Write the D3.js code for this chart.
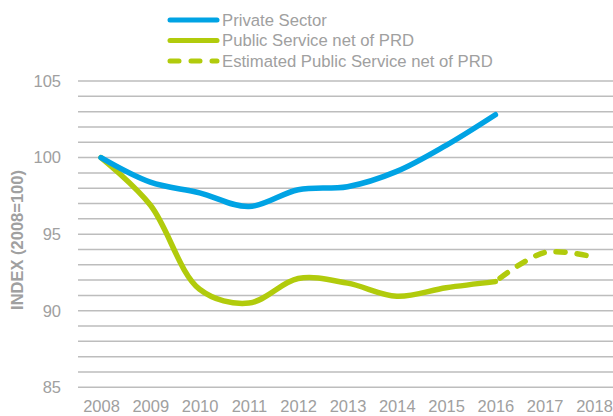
<!DOCTYPE html>
<html>
<head>
<meta charset="utf-8">
<script src="https://cdn.jsdelivr.net/npm/d3@7"></script>
<style>
  html, body { margin: 0; padding: 0; background: #fff; }
  svg { display: block; font-family: "Liberation Sans", Arial, sans-serif; }
</style>
</head>
<body>
<svg id="chart" width="613" height="416"></svg>
<script>
const years = ["2008","2009","2010","2011","2012","2013","2014","2015","2016","2017","2018"];
const privateYears = ["2008","2009","2010","2011","2012","2013","2014","2015","2016"];
const privateValues = [100, 98.4, 97.7, 96.8, 97.9, 98.1, 99.1, 100.8, 102.8];
const publicYears = ["2008","2009","2010","2011","2012","2013","2014","2015","2016"];
const publicValues = [100, 96.9, 91.4, 90.5, 92.1, 91.8, 90.95, 91.5, 91.9];
const estYears = ["2016","2017","2018"];
const estValues = [91.9, 93.8, 93.5];
const yTicks = [85, 90, 95, 100, 105];
const gridValues = d3.range(85, 106, 1);
const legendLabels = ["Private Sector", "Public Service net of PRD", "Estimated Public Service net of PRD"];
const yAxisTitle = "INDEX (2008=100)";

const blue = "#00a3e4";
const green = "#b1cb0c";
const textGrey = "#a0a0a0";

const svg = d3.select("#chart");

const x = d3.scalePoint().domain(years).range([101, 594]);
const y = d3.scaleLinear().domain([85, 105]).range([387.3, 81]);

// gridlines
svg.append("g").selectAll("line").data(gridValues).join("line")
  .attr("x1", 78).attr("x2", 613)
  .attr("y1", d => y(d)).attr("y2", d => y(d))
  .attr("stroke", "#bdbdbd").attr("stroke-width", 1.5);

// y axis labels
const yAxis = d3.axisLeft(y).tickValues(yTicks).tickSize(0).tickPadding(0);
const ya = svg.append("g").attr("transform", "translate(61,0)").call(yAxis);
ya.select(".domain").remove();
ya.selectAll("text").attr("fill", textGrey).style("font-size", "16.5px")
  .style("font-family", "'Liberation Sans', Arial, sans-serif");

// x axis labels
const xAxis = d3.axisBottom(x).tickSize(0).tickPadding(0);
const xa = svg.append("g").attr("transform", "translate(0,400)").call(xAxis);
xa.select(".domain").remove();
xa.selectAll("text").attr("fill", textGrey).style("font-size", "16.5px")
  .style("font-family", "'Liberation Sans', Arial, sans-serif");

// y title
svg.append("text")
  .attr("transform", "translate(23,240) rotate(-90)")
  .attr("text-anchor", "middle")
  .attr("fill", textGrey)
  .style("font-size", "16.5px").style("font-weight", "bold")
  .text(yAxisTitle);

const line = d3.line().x(d => x(d[0])).y(d => y(d[1])).curve(d3.curveCatmullRom.alpha(0.5));

svg.append("path").datum(d3.zip(publicYears, publicValues))
  .attr("d", line).attr("fill", "none").attr("stroke", green)
  .attr("stroke-width", 5.5).attr("stroke-linecap", "round").attr("stroke-linejoin", "round");

svg.append("path").datum(d3.zip(estYears, estValues))
  .attr("d", line).attr("fill", "none").attr("stroke", green)
  .attr("stroke-width", 5.5).attr("stroke-linecap", "round")
  .attr("stroke-dasharray", "9,12").attr("stroke-dashoffset", "-6");

svg.append("path").datum(d3.zip(privateYears, privateValues))
  .attr("d", line).attr("fill", "none").attr("stroke", blue)
  .attr("stroke-width", 5.5).attr("stroke-linecap", "round").attr("stroke-linejoin", "round");

// legend
const legendColors = [blue, green, green];
const legendDash = [null, null, "9,12"];
const lg = svg.append("g");
legendLabels.forEach((lab, i) => {
  const yy = 20 + i * 20.5;
  lg.append("line").attr("x1", 170).attr("x2", 217).attr("y1", yy).attr("y2", yy)
    .attr("stroke", legendColors[i]).attr("stroke-width", 5).attr("stroke-linecap", "round")
    .attr("stroke-dasharray", legendDash[i]);
  lg.append("text").attr("x", 222).attr("y", yy).attr("dy", "0.35em")
    .attr("fill", textGrey).style("font-size", "16.7px").text(lab);
});
</script>
</body>
</html>
